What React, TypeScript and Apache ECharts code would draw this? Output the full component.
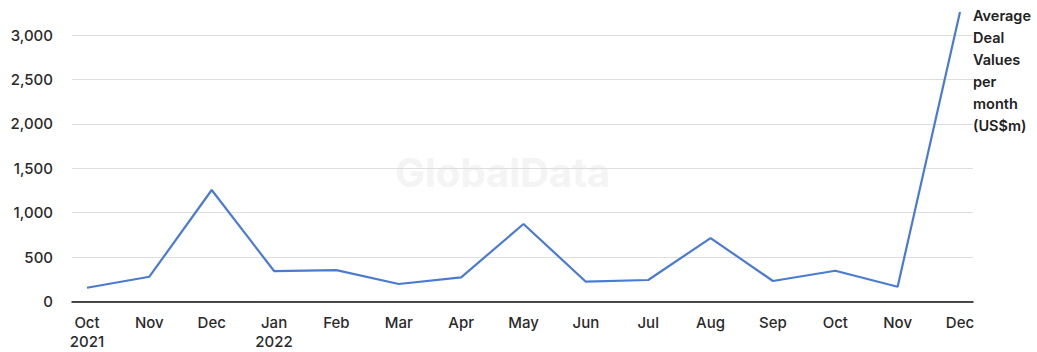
import React, { useEffect, useRef } from "react";
import * as echarts from "echarts";

const months = ["Oct\n2021", "Nov", "Dec", "Jan\n2022", "Feb", "Mar", "Apr", "May", "Jun", "Jul", "Aug", "Sep", "Oct", "Nov", "Dec"];
const dealValues = [155, 279, 1255, 343, 354, 197, 272, 872, 223, 242, 714, 231, 346, 166, 3260];
const seriesName = "Average\nDeal\nValues\nper\nmonth\n(US$m)";
const yMin = 0;
const yMax = 3000;
const yInterval = 500;

const FONT = "Inter, Liberation Sans, Arial, sans-serif";

export default function App() {
  const ref = useRef<HTMLDivElement>(null);
  useEffect(() => {
    if (!ref.current) return;
    const chart = echarts.init(ref.current, undefined, { renderer: "svg" });
    chart.setOption({
      animation: false,
      backgroundColor: "#ffffff",
      textStyle: { fontFamily: FONT },
      grid: [
        { left: 87, right: 77, top: 35, bottom: 50.5, containLabel: false, outerBoundsMode: "none" },
        { left: 72, right: 64, top: 35, bottom: 50.5, containLabel: false, outerBoundsMode: "none" },
      ],
      xAxis: [
        {
          type: "category",
          gridIndex: 0,
          data: months,
          boundaryGap: false,
          axisLine: { show: false },
          axisTick: { show: false },
          splitLine: { show: false },
          axisLabel: { color: "#2a2a2a", fontSize: 15, margin: 11, lineHeight: 19, fontFamily: FONT, fontWeight: 500 },
        },
        {
          type: "value",
          gridIndex: 1,
          min: 0,
          max: 1,
          axisLine: { show: true, lineStyle: { color: "#111", width: 1.5 } },
          axisTick: { show: false },
          axisLabel: { show: false },
          splitLine: { show: false },
        },
      ],
      yAxis: [
        {
          type: "value",
          gridIndex: 0,
          min: yMin,
          max: yMax,
          interval: yInterval,
          show: false,
        },
        {
          type: "value",
          gridIndex: 1,
          min: yMin,
          max: yMax,
          interval: yInterval,
          axisLine: { show: false },
          axisTick: { show: false },
          splitLine: { show: true, lineStyle: { color: "#dedede", width: 1 } },
          axisLabel: {
            color: "#2a2a2a",
            fontSize: 15,
            fontWeight: 500,
            margin: 19,
            fontFamily: FONT,
            formatter: (v: number) => v.toLocaleString("en-US"),
          },
        },
      ],
      graphic: [
        {
          type: "text",
          left: 395,
          top: 152,
          silent: true,
          z: -1,
          style: { text: "GlobalData", fontSize: 40, fontWeight: "bold", fill: "#f4f4f4", fontFamily: FONT },
        },
        {
          type: "text",
          left: 973,
          top: 4,
          style: { text: seriesName, fontSize: 14.5, lineHeight: 22, fill: "#222", fontFamily: FONT, fontWeight: 600 },
        },
      ],
      series: [
        {
          type: "line",
          name: "Average Deal Values per month (US$m)",
          xAxisIndex: 0,
          yAxisIndex: 0,
          data: dealValues,
          showSymbol: false,
          symbol: "none",
          clip: false,
          lineStyle: { color: "#4a7bd3", width: 2.2 },
          z: 5,
        },
      ],
    });
    return () => chart.dispose();
  }, []);
  return <div ref={ref} style={{ position: "fixed", left: 0, top: 0, width: 1037, height: 352 }} />;
}
